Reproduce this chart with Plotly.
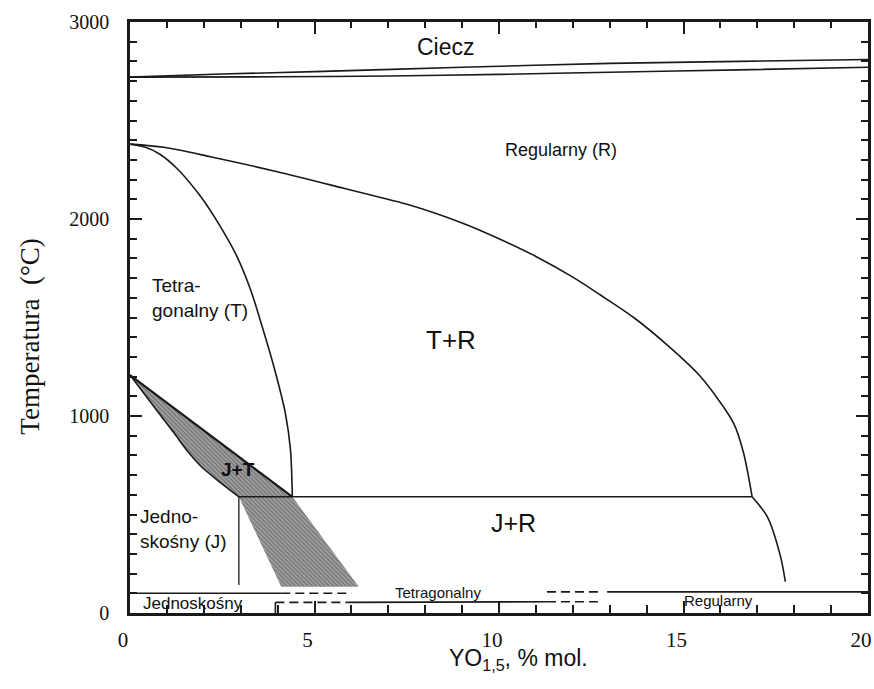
import plotly.graph_objects as go

# ---------------- data (x = YO1.5 mol %, T = temperature °C) ----------------
liquidus_x = [0, 2.5, 5, 9, 13, 16.5, 20]
liquidus_T = [2720, 2736, 2748, 2770, 2790, 2800, 2810]

solidus_x = [0, 4, 7, 10, 13, 16.5, 20]
solidus_T = [2720, 2722, 2726, 2734, 2745, 2757, 2770]

cubic_x = [0, 0.92, 2.18, 3.99, 5.79, 7.6, 9, 10, 11, 12, 12.75, 13.65, 14.56, 15.46, 16.36, 16.63, 16.86]
cubic_T = [2380, 2364, 2316, 2240, 2156, 2070, 1980, 1900, 1810, 1705, 1614, 1500, 1360, 1200, 963, 811, 590]

cubic_low_x = [16.86, 17.27, 17.63, 17.76]
cubic_low_T = [590, 489, 286, 159]

tetra_x = [0, 0.4, 0.8, 1.28, 1.91, 2.45, 2.9, 3.27, 3.54, 3.9, 4.21, 4.35, 4.4]
tetra_T = [2380, 2365, 2330, 2255, 2115, 1961, 1809, 1640, 1480, 1250, 1014, 827, 590]

jt_upper_x = [0, 4.4]
jt_upper_T = [1208, 590]

jt_lower_x = [0, 0.6, 1.2, 1.6, 1.95, 2.4, 2.95]
jt_lower_T = [1208, 1060, 912, 812, 740, 670, 590]

eutectoid_x = [2.95, 16.86]
eutectoid_T = [590, 590]

mono_x = [2.95, 2.95]
mono_T = [590, 142]

band_x = [2.95, 4.4, 6.2, 4.1]
band_T = [590, 590, 133, 133]

# metastable strip at the bottom
strip_up_solid1_x = [0, 4.1]
strip_up_solid1_T = [100, 100]
strip_up_dash1_x = [4.1, 6.0]
strip_up_dash1_T = [100, 100]
strip_up_dash2_x = [11.3, 12.75]
strip_up_dash2_T = [107, 107]
strip_up_solid2_x = [12.93, 20]
strip_up_solid2_T = [107, 107]

strip_lo_tick_x = [3.94, 3.94]
strip_lo_tick_T = [0, 54]
strip_lo_dash1_x = [3.94, 5.9]
strip_lo_dash1_T = [54, 54]
strip_lo_solid_x = [5.9, 11.3]
strip_lo_solid_T = [54, 57]
strip_lo_dash2_x = [11.3, 12.75]
strip_lo_dash2_T = [57, 57]

labels = ["Ciecz", "Regularny (R)", "Tetra-<br>gonalny (T)", "T+R", "<b>J+T</b>",
          "Jedno-<br>skośny (J)", "J+R", "Jednoskośny", "Tetragonalny", "Regularny"]
label_x = [8.55, 11.67, 0.55, 8.69, 2.93, 0.22, 10.4, 1.7, 8.36, 15.95]
label_T = [2873, 2350, 1599, 1386, 726, 426, 457, 50, 103, 62]

xticks = [0, 5, 10, 15, 20]
yticks = [0, 1000, 2000, 3000]

x_title = "YO<sub>1,5</sub>, % mol."
y_title = "Temperatura&nbsp;&nbsp;(°C)"

# ---------------- figure ----------------
LINE = "#1a1a1a"
fig = go.Figure()

HATCH = dict(shape="\\", fgcolor="#3a3a3a", bgcolor="#a2a2a2", size=3, solidity=0.4)
fig.add_trace(go.Scatter(
    x=jt_upper_x + jt_lower_x[::-1], y=jt_upper_T + jt_lower_T[::-1],
    fill="toself", mode="lines", line=dict(width=0, color=LINE),
    fillcolor="#8c8c8c", fillpattern=HATCH, hoverinfo="skip", showlegend=False))
fig.add_trace(go.Scatter(
    x=band_x + [band_x[0]], y=band_T + [band_T[0]],
    fill="toself", mode="lines", line=dict(width=0, color=LINE),
    fillcolor="#8c8c8c", fillpattern=HATCH, hoverinfo="skip", showlegend=False))

def add_line(xs, ys, width=1.6, dash="solid", axes=("x", "y")):
    fig.add_trace(go.Scatter(x=xs, y=ys, mode="lines", xaxis=axes[0], yaxis=axes[1],
                             line=dict(color=LINE, width=width, dash=dash, shape="spline", smoothing=0.8),
                             hoverinfo="skip", showlegend=False))

add_line(liquidus_x, liquidus_T)
add_line(solidus_x, solidus_T)
add_line(cubic_x, cubic_T)
add_line(cubic_low_x, cubic_low_T)
add_line(tetra_x, tetra_T)
add_line(jt_upper_x, jt_upper_T, width=2.2)
add_line(jt_lower_x, jt_lower_T)
add_line(eutectoid_x, eutectoid_T, axes=("x2", "y2"))
add_line(mono_x, mono_T, width=1.3)

add_line(strip_up_solid1_x, strip_up_solid1_T)
add_line(strip_up_dash1_x, strip_up_dash1_T, dash="9px,5px")
add_line(strip_up_dash2_x, strip_up_dash2_T, dash="9px,5px")
add_line(strip_up_solid2_x, strip_up_solid2_T)
add_line(strip_lo_tick_x, strip_lo_tick_T)
add_line(strip_lo_dash1_x, strip_lo_dash1_T, dash="9px,5px")
add_line(strip_lo_solid_x, strip_lo_solid_T)
add_line(strip_lo_dash2_x, strip_lo_dash2_T, dash="9px,5px")

SANS = "Liberation Sans Narrow, Arial Narrow, Liberation Sans, Arial, sans-serif"
SERIF = "Liberation Serif, Times New Roman, serif"
sizes = [23, 18, 19, 26, 19, 19, 25, 17, 15, 15]
for i, (t, x, y) in enumerate(zip(labels, label_x, label_T)):
    left = i in (2, 5)
    fig.add_annotation(x=x, y=y, text=t, showarrow=False,
                       xanchor="left" if left else "center", yanchor="middle",
                       align="left" if left else "center",
                       font=dict(family=SANS, size=sizes[i], color="#111"))

# axis titles as annotations (paper coordinates)
fig.add_annotation(x=0.527, y=-0.079, xref="paper", yref="paper", text=x_title, showarrow=False,
                   xanchor="center", yanchor="middle", font=dict(family=SANS, size=23, color="#111"))
fig.add_annotation(x=-0.136, y=0.467, xref="paper", yref="paper", text=y_title, showarrow=False,
                   textangle=-90, xanchor="center", yanchor="middle",
                   font=dict(family=SERIF, size=27, color="#111"))

common = dict(ticks="inside", ticklen=12, tickwidth=2, tickcolor=LINE,
              showgrid=False, zeroline=False, automargin=False)

fig.update_layout(
    xaxis=dict(range=[0, 20], tickvals=xticks, ticktext=[str(v) for v in xticks],
               minor=dict(dtick=1, ticks="inside", ticklen=8, tickwidth=1.8, tickcolor=LINE),
               showline=True, linewidth=2.5, linecolor=LINE, mirror=True,
               tickfont=dict(family=SERIF, size=21, color="#111"),
               ticklabelstandoff=6, ticklabelshift=-7, **common),
    yaxis=dict(range=[0, 3000], tickvals=yticks, ticktext=[str(v) for v in yticks],
               minor=dict(dtick=100, ticks="inside", ticklen=7, tickwidth=1.8, tickcolor=LINE),
               showline=True, linewidth=2.5, linecolor=LINE, mirror=True,
               tickfont=dict(family=SERIF, size=20, color="#111"),
               ticklabelstandoff=14, **common),
    xaxis2=dict(range=[0, 20], overlaying="x", side="top", anchor="y2", tickvals=xticks,
                showticklabels=False, showline=False,
                minor=dict(dtick=1, ticks="inside", ticklen=6, tickwidth=1.8, tickcolor=LINE), **common),
    yaxis2=dict(range=[0, 3000], overlaying="y", side="right", anchor="x2", tickvals=yticks,
                showticklabels=False, showline=False,
                minor=dict(dtick=100, ticks="inside", ticklen=7, tickwidth=1.8, tickcolor=LINE), **common),
    width=874, height=689,
    margin=dict(l=130, r=6, t=22, b=76),
    plot_bgcolor="white", paper_bgcolor="white")

fig.write_html("out.html", config={"displayModeBar": False},
               post_script="document.body.style.margin='0px';document.body.style.overflow='hidden';")
